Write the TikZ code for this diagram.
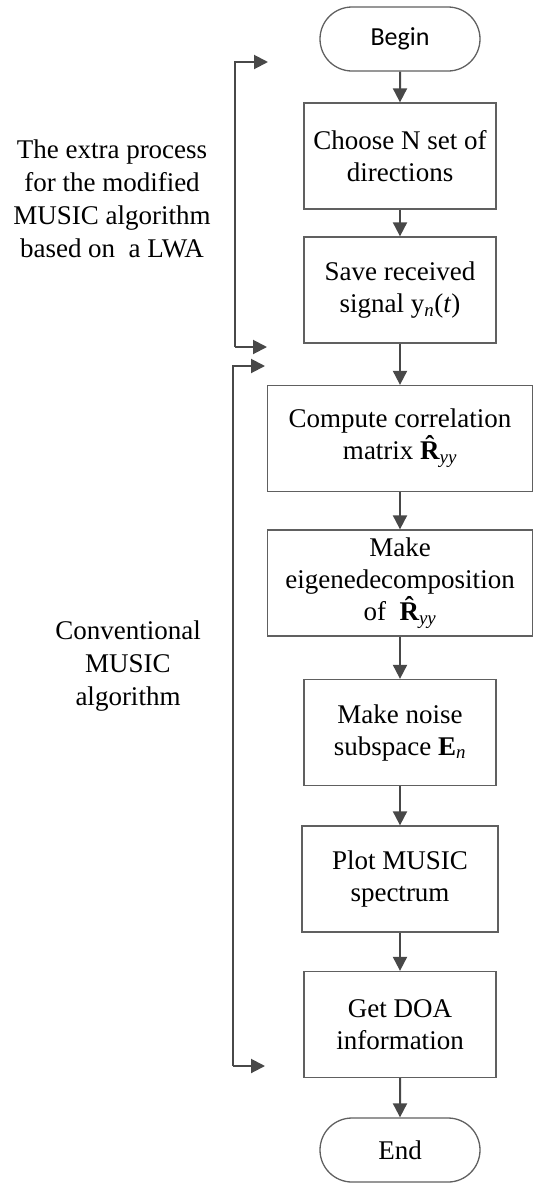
\documentclass[tikz,border=0pt]{standalone}
\usepackage{fontspec}
\setmainfont{Liberation Serif}
\newfontfamily\calfont{Carlito}
\usepackage{tikz}
\usetikzlibrary{arrows.meta,shapes.misc}

\definecolor{linegray}{HTML}{484848}
\definecolor{boxgray}{HTML}{606060}
\newcommand{\hatR}{\textbf{\ooalign{R\cr\hidewidth\raisebox{0.2em}{\char"02C6}\hidewidth\cr}}}

\tikzset{
  stepbox/.style={draw=boxgray,line width=1.3pt,minimum height=106pt,align=center,
    inner sep=0pt,font=\fontsize{27}{32}\selectfont},
  terminal/.style={draw=boxgray,line width=1.3pt,rounded rectangle,minimum width=160pt,
    minimum height=64pt,inner sep=0pt},
  flow/.style={draw=linegray,line width=2pt,-{Triangle[length=14pt,width=14pt]}},
  note/.style={align=center,font=\fontsize{27}{33}\selectfont}
}

\begin{document}
\begin{tikzpicture}[x=1pt,y=-1pt]
	\useasboundingbox (0,0) rectangle (534,1184);
	% main column
	\node[terminal,font=\calfont\fontsize{26}{30}\selectfont] (begin) at (400,39) {Begin};
	\node[stepbox,minimum width=192pt] (choose) at (400,156) {Choose N set of\\directions};
	\node[stepbox,minimum width=192pt] (save) at (400,290) {Save received\\signal y\textsubscript{\textit{n}}(\textit{t})};
	\node[stepbox,minimum width=265pt] (corr) at (400,438.5) {Compute correlation\\matrix \hatR\textsubscript{\textit{yy}}};
	\node[stepbox,minimum width=265pt] (eig) at (400,583) {Make\\eigenedecomposition\\of \ \hatR\textsubscript{\textit{yy}}};
	\node[stepbox,minimum width=192pt] (noise) at (400,732.5) {Make noise\\subspace \textbf{E}\textsubscript{\textit{n}}};
	\node[stepbox,minimum width=196pt] (plot) at (400,879) {Plot MUSIC\\spectrum};
	\node[stepbox,minimum width=192pt] (doa) at (400,1024.5) {Get DOA\\information};
	\node[terminal,font=\fontsize{27}{32}\selectfont] (end) at (400,1150) {End};
	\foreach \a/\b in {begin/choose,choose/save,save/corr,corr/eig,eig/noise,noise/plot,plot/doa,doa/end}
	\draw[flow] (\a) -- (\b);
	% side notes
	\node[note] (extra) at (112,199) {The extra process\\for the modified\\MUSIC algorithm\\based on \ a LWA};
	\node[note] (conv) at (128,666) {Conventional\\MUSIC\\algorithm};
	% brackets
	\coordinate (xtop) at (268,62);
	\coordinate (xbot) at (267,347);
	\coordinate (ctop) at (265,366);
	\coordinate (cbot) at (265,1066);
	\draw[flow] (235,347) -- (235,62) -- (xtop);
	\draw[flow] (235,347) -- (xbot);
	\draw[flow] (233,1066) -- (233,366) -- (ctop);
	\draw[flow] (233,1066) -- (cbot);
\end{tikzpicture}
\end{document}
